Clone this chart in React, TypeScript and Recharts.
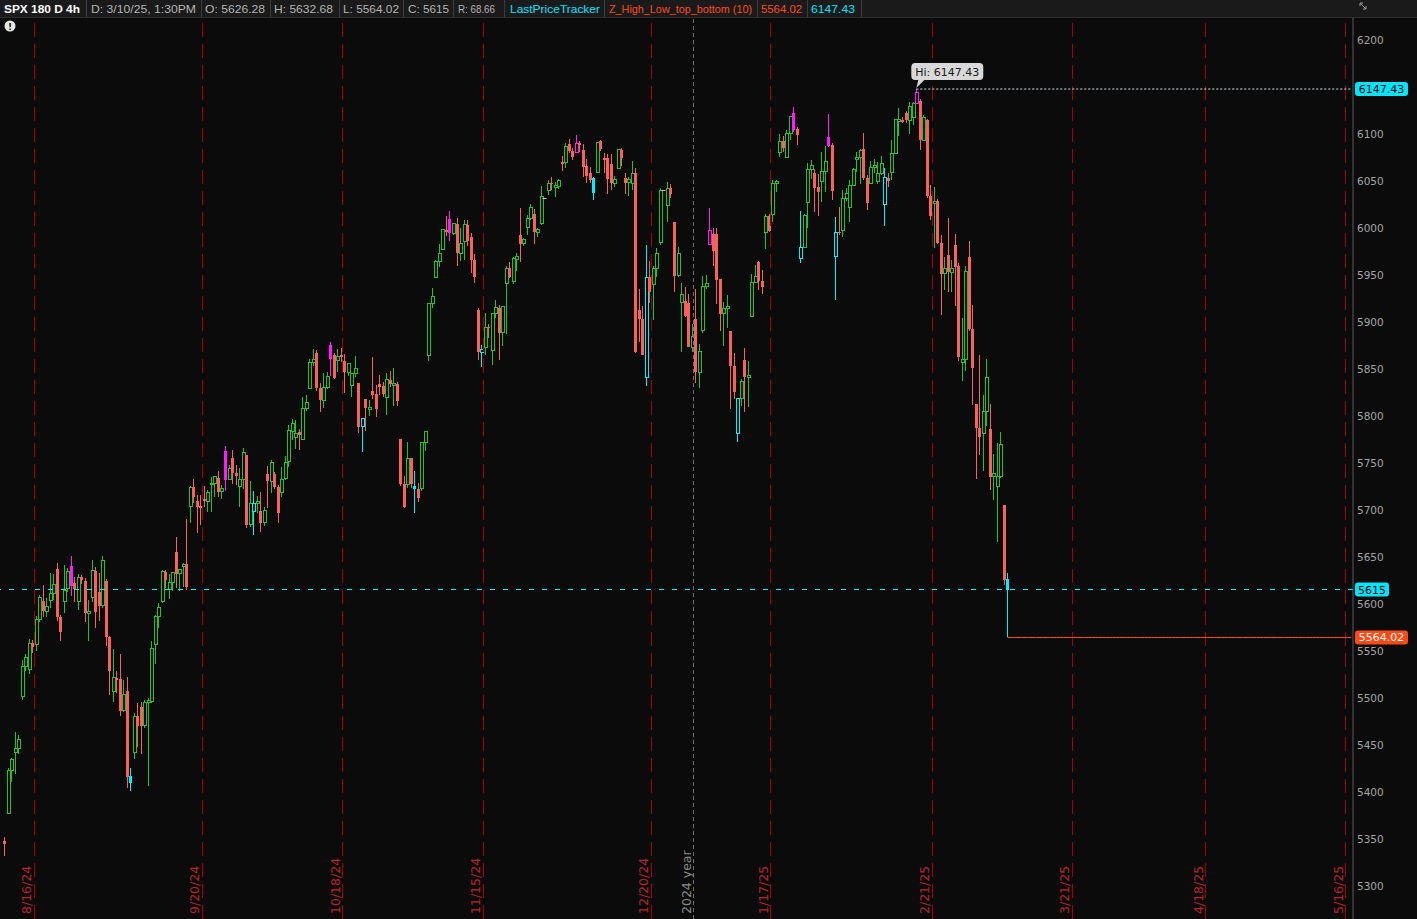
import React from "react";
import { Bar, ComposedChart, Line, ReferenceDot, ReferenceLine, XAxis, YAxis } from "recharts";

// SPX 4h candles, [open, high, low, close], one row per 4h bar.
// Slot 0 is the (cut off) first bar of 8/12/24, so the list starts at slot 1.
type Ohlc = [number, number, number, number];

const aug24: Ohlc[] = [
  [5348, 5352, 5331, 5344], [5377, 5425, 5376, 5422], [5422, 5436, 5410, 5434],
  [5442, 5463, 5419, 5446], [5446, 5460, 5440, 5455], [5501, 5540, 5497, 5533],
  [5533, 5546, 5528, 5543], [5530, 5562, 5525, 5558], [5558, 5561, 5548, 5554],
  [5557, 5587, 5550, 5583], [5583, 5609, 5580, 5607], [5603, 5620, 5586, 5592],
  [5592, 5606, 5586, 5597], [5603, 5633, 5595, 5611], [5611, 5632, 5604, 5620],
  [5637, 5643, 5582, 5586], [5586, 5588, 5560, 5570], [5602, 5641, 5590, 5614],
  [5616, 5638, 5612, 5634], [5640, 5651, 5608, 5619], [5622, 5628, 5602, 5616],
  [5602, 5631, 5593, 5628], [5628, 5630, 5621, 5625], [5624, 5627, 5580, 5590],
  [5590, 5604, 5560, 5592], [5607, 5646, 5602, 5635], [5635, 5639, 5574, 5591],
  [5612, 5633, 5581, 5598], [5598, 5651, 5595, 5646],
];

const sep24: Ohlc[] = [
  [5624, 5626, 5555, 5564], [5565, 5566, 5503, 5528], [5506, 5552, 5495, 5521],
  [5521, 5528, 5505, 5519], [5520, 5546, 5480, 5486], [5486, 5519, 5485, 5503],
  [5507, 5522, 5404, 5416], [5417, 5425, 5401, 5409], [5442, 5484, 5435, 5480],
  [5480, 5494, 5448, 5470], [5490, 5495, 5440, 5470], [5470, 5497, 5468, 5495],
  [5495, 5500, 5406, 5497], [5496, 5560, 5494, 5552], [5557, 5588, 5536, 5586],
  [5586, 5601, 5574, 5596], [5602, 5636, 5601, 5634], [5634, 5636, 5617, 5625],
  [5615, 5632, 5605, 5622], [5622, 5634, 5613, 5633], [5655, 5671, 5617, 5632],
  [5632, 5636, 5613, 5636], [5640, 5643, 5618, 5642], [5642, 5690, 5615, 5618],
  [5703, 5725, 5686, 5724], [5724, 5733, 5707, 5713], [5709, 5716, 5675, 5703],
  [5704, 5716, 5684, 5702], [5711, 5725, 5703, 5709], [5709, 5721, 5698, 5718],
  [5727, 5735, 5698, 5728], [5728, 5736, 5713, 5735], [5734, 5741, 5713, 5719],
  [5719, 5726, 5711, 5723], [5762, 5768, 5720, 5732], [5732, 5748, 5731, 5744],
  [5755, 5763, 5727, 5739], [5739, 5748, 5726, 5736], [5725, 5744, 5703, 5732],
  [5732, 5766, 5722, 5761],
];

const oct24: Ohlc[] = [
  [5758, 5758, 5680, 5684], [5684, 5730, 5682, 5707], [5698, 5720, 5673, 5706],
  [5706, 5715, 5696, 5709], [5699, 5719, 5676, 5686], [5686, 5703, 5683, 5699],
  [5738, 5746, 5702, 5730], [5730, 5753, 5718, 5750], [5738, 5740, 5722, 5724],
  [5724, 5726, 5686, 5696], [5718, 5745, 5713, 5732], [5733, 5757, 5731, 5750],
  [5751, 5790, 5745, 5784], [5783, 5796, 5774, 5792], [5777, 5795, 5765, 5781],
  [5783, 5786, 5763, 5779], [5775, 5820, 5775, 5808], [5808, 5822, 5805, 5814],
  [5829, 5860, 5828, 5857], [5857, 5871, 5853, 5860], [5867, 5870, 5826, 5829],
  [5829, 5835, 5804, 5817], [5816, 5845, 5808, 5830], [5830, 5846, 5828, 5842],
  [5875, 5878, 5842, 5860], [5864, 5867, 5839, 5840], [5859, 5871, 5846, 5863],
  [5865, 5872, 5857, 5862], [5858, 5866, 5824, 5846], [5846, 5856, 5842, 5855],
  [5832, 5845, 5820, 5845], [5845, 5863, 5841, 5850], [5835, 5835, 5781, 5788],
  [5788, 5798, 5761, 5797], [5818, 5818, 5784, 5808], [5807, 5817, 5800, 5809],
  [5826, 5862, 5818, 5822], [5823, 5833, 5799, 5807], [5834, 5843, 5822, 5830],
  [5832, 5836, 5820, 5823], [5819, 5845, 5801, 5838], [5838, 5847, 5830, 5834],
  [5832, 5851, 5810, 5834], [5834, 5836, 5810, 5816], [5775, 5775, 5725, 5727],
  [5727, 5736, 5702, 5703],
];

const nov24: Ohlc[] = [
  [5727, 5772, 5723, 5754], [5755, 5755, 5723, 5727], [5725, 5741, 5696, 5722],
  [5722, 5728, 5708, 5712], [5722, 5771, 5720, 5771], [5771, 5784, 5762, 5783],
  [5864, 5920, 5858, 5919], [5919, 5936, 5915, 5927], [5947, 5966, 5946, 5964],
  [5964, 5983, 5958, 5973], [5977, 5999, 5976, 5998], [5998, 6012, 5991, 5995],
  [6009, 6018, 5986, 5994], [5994, 6005, 5992, 6004], [6004, 6010, 5959, 5973],
  [5973, 6000, 5965, 5983], [5985, 6008, 5966, 6003], [6003, 6008, 5980, 5986],
  [5990, 5994, 5952, 5966], [5966, 5972, 5941, 5948], [5912, 5915, 5859, 5868],
  [5867, 5875, 5852, 5870], [5873, 5909, 5865, 5894], [5894, 5897, 5883, 5893],
  [5869, 5909, 5854, 5909], [5909, 5923, 5904, 5915], [5915, 5918, 5859, 5888],
  [5888, 5916, 5874, 5916], [5941, 5959, 5887, 5957], [5957, 5963, 5946, 5947],
  [5943, 5969, 5940, 5967], [5966, 5973, 5954, 5969], [5992, 6021, 5963, 5983],
  [5983, 5989, 5980, 5987], [6000, 6013, 5992, 6010], [6010, 6025, 6008, 6021],
  [6014, 6020, 5983, 5995], [5995, 6000, 5990, 5998], [6004, 6044, 6003, 6033],
  [6032, 6032, 6032, 6032],
];

const dec24: Ohlc[] = [
  [6039, 6051, 6035, 6047], [6048, 6054, 6040, 6047], [6043, 6049, 6033, 6045],
  [6044, 6052, 6041, 6050], [6070, 6076, 6060, 6068], [6069, 6090, 6063, 6086],
  [6089, 6094, 6079, 6082], [6082, 6085, 6072, 6075], [6080, 6099, 6079, 6090],
  [6090, 6092, 6080, 6088], [6083, 6089, 6054, 6065], [6066, 6073, 6047, 6055],
  [6058, 6065, 6047, 6051], [6053, 6054, 6029, 6037], [6059, 6091, 6058, 6091],
  [6092, 6093, 6082, 6084], [6074, 6079, 6058, 6072], [6074, 6078, 6036, 6052],
  [6068, 6078, 6040, 6047], [6047, 6055, 6043, 6051], [6063, 6084, 6062, 6083],
  [6083, 6085, 6066, 6074], [6053, 6058, 6036, 6047], [6048, 6054, 6034, 6051],
  [6047, 6071, 6040, 6058], [6058, 6063, 5867, 5868], [5912, 5935, 5878, 5903],
  [5903, 5917, 5865, 5865], [5841, 5982, 5831, 5947], [5947, 5964, 5920, 5931],
  [5939, 5959, 5902, 5957], [5957, 5978, 5947, 5972], [5984, 6042, 5982, 6040],
  [6040, 6040, 6040, 6040], [6024, 6049, 6006, 6042], [6042, 6046, 6031, 6036],
  [6006, 6006, 5931, 5949], [5949, 5979, 5947, 5972], [5920, 5941, 5868, 5929],
  [5922, 5937, 5905, 5906], [5920, 5929, 5873, 5873], [5873, 5897, 5868, 5884],
];

const jan25: Ohlc[] = [
  [5903, 5935, 5835, 5846], [5846, 5876, 5829, 5868], [5891, 5949, 5888, 5937],
  [5937, 5950, 5935, 5941], [5982, 6021, 5982, 5997], [5993, 6000, 5959, 5975],
  [5993, 6000, 5919, 5944], [5945, 5945, 5890, 5908], [5909, 5921, 5874, 5914],
  [5914, 5928, 5893, 5916], [5890, 5890, 5807, 5853], [5853, 5867, 5818, 5825],
  [5781, 5818, 5772, 5818], [5818, 5839, 5810, 5836], [5859, 5872, 5804, 5841],
  [5841, 5858, 5809, 5843], [5905, 5951, 5905, 5942], [5942, 5960, 5941, 5948],
  [5963, 5965, 5934, 5943], [5943, 5955, 5929, 5937], [5995, 6015, 5977, 6012],
  [6012, 6014, 5995, 5996], [6014, 6051, 6006, 6047], [6047, 6051, 6038, 6049],
  [6080, 6100, 6075, 6092], [6092, 6097, 6080, 6085], [6075, 6104, 6074, 6100],
  [6100, 6119, 6093, 6118], [6122, 6128, 6102, 6104], [6105, 6107, 6088, 6099],
  [5967, 6018, 5962, 5979], [5979, 6014, 5978, 6013], [6027, 6069, 6000, 6062],
  [6062, 6072, 6052, 6066], [6058, 6062, 6017, 6042], [6043, 6057, 6012, 6038],
  [6049, 6080, 6027, 6060], [6060, 6087, 6038, 6070], [6096, 6121, 6086, 6087],
  [6088, 6090, 6029, 6039],
];

const feb25: Ohlc[] = [
  [5969, 6011, 5923, 5995], [5995, 6022, 5992, 5994], [5997, 6040, 5990, 6031],
  [6031, 6042, 6028, 6036], [6021, 6051, 6006, 6045], [6045, 6063, 6044, 6062],
  [6072, 6080, 6059, 6075], [6075, 6084, 6046, 6082], [6084, 6101, 6051, 6053],
  [6053, 6056, 6019, 6026], [6047, 6071, 6046, 6064], [6064, 6073, 6058, 6066],
  [6049, 6070, 6046, 6058], [6058, 6076, 6056, 6068], [6025, 6063, 6002, 6053],
  [6053, 6058, 6043, 6050], [6059, 6093, 6051, 6079], [6079, 6116, 6078, 6115],
  [6113, 6127, 6098, 6115], [6115, 6118, 6111, 6112], [6122, 6124, 6111, 6114],
  [6114, 6134, 6100, 6129], [6117, 6134, 6109, 6132], [6132, 6147.43, 6131, 6144],
  [6135, 6137, 6083, 6093], [6093, 6120, 6092, 6117], [6114, 6116, 6032, 6034],
  [6034, 6045, 6008, 6012], [6026, 6043, 5978, 6028], [6028, 6030, 5983, 5984],
  [5984, 5992, 5907, 5951], [5951, 5969, 5934, 5956], [5971, 6010, 5931, 5953],
  [5952, 5966, 5931, 5957], [5981, 5993, 5917, 5958], [5959, 5962, 5858, 5862],
  [5856, 5904, 5837, 5860], [5860, 5959, 5848, 5953],
];

const mar25: Ohlc[] = [
  [5969, 5986, 5890, 5892], [5892, 5918, 5811, 5851], [5812, 5812, 5733, 5787],
  [5787, 5865, 5758, 5777], [5781, 5822, 5741, 5804], [5804, 5860, 5789, 5841],
  [5786, 5812, 5721, 5735], [5735, 5759, 5710, 5738], [5725, 5771, 5666, 5735],
  [5735, 5783, 5734, 5769], [5705, 5705, 5620, 5625], [5626.28, 5632.68, 5564.02, 5615],
];

// Z_High_Low_top_bottom (10) pivots, by slot
const pivotHighSlots = [20, 64, 94, 128, 164, 202, 226, 236, 261];
const pivotLowSlots = [37, 72, 103, 118, 137, 169, 184, 210, 228, 238, 252, 287];

// monthly expiration lines sit on the slot that follows the expiry day
const expiryLines = [
  { slot: 10, label: "8/16/24" },
  { slot: 58, label: "9/20/24" },
  { slot: 98, label: "10/18/24" },
  { slot: 138, label: "11/15/24" },
  { slot: 186, label: "12/20/24" },
  { slot: 220, label: "1/17/25" },
  { slot: 266, label: "2/21/25" },
  { slot: 306, label: "3/21/25" },
  { slot: 344, label: "4/18/25" },
  { slot: 384, label: "5/16/25" },
];
const yearLine = { slot: 198, label: "2024 year" };

// 6150 is hidden under the 6147.43 tag in the original
const priceTicks = [
  5300, 5350, 5400, 5450, 5500, 5550, 5600, 5650, 5700, 5750,
  5800, 5850, 5900, 5950, 6000, 6050, 6100, 6200,
];

const lastPrice = 5615;
const hiValue = 6147.43;
const hiSlot = 261;
const loValue = 5564.02;
const SLOTS = 386; // incl. the empty expansion area on the right

const GREEN = "#22c322";
const RED = "#f7625c";
const MAGENTA = "#ff1aff";
const CYAN = "#00f0ff";
const DOJI = "#c8c8c8";
const ORANGE = "#ff4a14";
const BG = "#0b0b0b";
const FONT = "'DejaVu Sans', 'Liberation Sans', sans-serif";
const HEAD_FONT = "'Liberation Sans', Arial, sans-serif";

const candles: Ohlc[] = [...aug24, ...sep24, ...oct24, ...nov24, ...dec24, ...jan25, ...feb25, ...mar25];
const lastSlot = candles.length; // slot index of the 3/10 1:30PM bar

const rows = Array.from({ length: SLOTS }, (_, i) => {
  const b = i >= 1 ? candles[i - 1] : undefined;
  return {
    i,
    o: b ? b[0] : null,
    h: b ? b[1] : null,
    l: b ? b[2] : null,
    c: b ? b[3] : null,
    kind: pivotHighSlots.includes(i) ? "hi" : pivotLowSlots.includes(i) ? "lo" : "",
    hiLine: i >= hiSlot ? hiValue : null,
    loLine: i >= lastSlot ? loValue : null,
  };
});

function Candle(props: any) {
  const { x, y, width, height, payload } = props;
  if (!payload || payload.o == null) return null;
  const { o, h, l, c, kind } = payload;
  const top = Math.min(y, y + height);
  const bot = Math.max(y, y + height);
  const span = h - l;
  const cx = Math.round(x + width / 2 - 0.5) + 0.5;
  if (span <= 0) {
    const yy = Math.round(top) + 0.5;
    return <line x1={cx - 2} x2={cx + 2} y1={yy} y2={yy} stroke={DOJI} />;
  }
  const py = (v: number) => top + ((h - v) / span) * (bot - top);
  const up = c > o;
  const color = kind === "hi" ? MAGENTA : kind === "lo" ? CYAN : up ? GREEN : RED;
  const bTop = py(Math.max(o, c));
  const bH = Math.max(py(Math.min(o, c)) - bTop, 1);
  return (
    <g shapeRendering="crispEdges">
      <line x1={cx} x2={cx} y1={py(h)} y2={bTop} stroke={color} />
      <line x1={cx} x2={cx} y1={bTop + bH} y2={py(l)} stroke={color} />
      {up ? (
        <rect x={cx - 1.5} y={bTop} width={3} height={bH} fill="none" stroke={color} />
      ) : (
        <rect x={cx - 1.5} y={bTop} width={3} height={bH} fill={color} />
      )}
    </g>
  );
}

function PriceTick(props: any) {
  const { y, payload } = props;
  return (
    <text x={1358} y={y + 4} fill="#a4a4a4" fontSize={10.5} fontFamily={FONT}>
      {payload.value}
    </text>
  );
}

function PriceTag(props: any) {
  const { viewBox, text, bg, fg, w } = props;
  if (!viewBox) return null;
  const x = viewBox.x + viewBox.width + 2;
  const y = viewBox.y;
  return (
    <g>
      <rect x={x} y={y - 7} width={w} height={14} rx={3} fill={bg} />
      <text x={x + w / 2} y={y + 4} textAnchor="middle" fill={fg} fontSize={11} fontFamily={FONT}>
        {text}
      </text>
    </g>
  );
}

function DateLabel(props: any) {
  const { viewBox, text, color } = props;
  if (!viewBox) return null;
  const tx = viewBox.x - 3;
  const ty = viewBox.y + viewBox.height - 5;
  return (
    <text
      x={tx}
      y={ty}
      transform={`rotate(-90 ${tx} ${ty})`}
      fill={color}
      fontSize={12.5}
      fontFamily={FONT}
    >
      {text}
    </text>
  );
}

function HiBubble(props: any) {
  const { cx, cy } = props;
  if (cx == null) return null;
  const bx = cx - 5;
  const by = cy - 26;
  return (
    <g>
      <path d={`M${cx} ${cy - 1} L${cx + 2} ${by + 17} L${cx + 8} ${by + 17} Z`} fill="#d9d9d9" />
      <rect x={bx} y={by} width={72} height={17} rx={4} fill="#d9d9d9" />
      <text x={bx + 36} y={by + 12.5} textAnchor="middle" fill="#1a1a1a" fontSize={11} fontFamily={FONT}>
        Hi: 6147.43
      </text>
    </g>
  );
}

const header = [
  { x: 4, w: 76, text: "SPX 180 D 4h", color: "#ffffff", bold: true, div: 86 },
  { x: 91, w: 105, text: "D: 3/10/25, 1:30PM", color: "#b4b4b4", div: 201 },
  { x: 205, w: 60, text: "O: 5626.28", color: "#b4b4b4", div: 270 },
  { x: 274, w: 59, text: "H: 5632.68", color: "#b4b4b4", div: 339 },
  { x: 343, w: 56, text: "L: 5564.02", color: "#b4b4b4", div: 403 },
  { x: 408, w: 41, text: "C: 5615", color: "#b4b4b4", div: 453 },
  { x: 458, w: 37, text: "R: 68.66", color: "#b4b4b4", div: 504 },
  { x: 510, w: 90, text: "LastPriceTracker", color: "#00e5ff", div: 604 },
  { x: 609, w: 143, text: "Z_High_Low_top_bottom (10)", color: ORANGE, div: 757 },
  { x: 761, w: 41, text: "5564.02", color: ORANGE, div: 807 },
  { x: 811, w: 44, text: "6147.43", color: "#00e5ff", div: 861 },
];

export default function App() {
  return (
    <div
      style={{
        position: "fixed",
        left: 0,
        top: 0,
        width: 1417,
        height: 919,
        overflow: "hidden",
        background: BG,
      }}
    >
      <div style={{ position: "absolute", left: -1, top: 0 }}>
        <ComposedChart
          width={1418}
          height={919}
          data={rows}
          margin={{ top: 18, right: 0, bottom: 0, left: 0 }}
          barCategoryGap={0}
        >
          <XAxis dataKey="i" type="category" hide />
          <YAxis
            orientation="right"
            width={64}
            domain={[5264.5, 6223]}
            allowDataOverflow
            ticks={priceTicks}
            interval={0}
            tickLine={false}
            axisLine={{ stroke: "#5a5a5a" }}
            tick={<PriceTick />}
          />
          {expiryLines.map((e) => (
            <ReferenceLine
              key={e.label}
              x={e.slot}
              position="start"
              stroke="#a80000"
              strokeDasharray="14 7"
              shapeRendering="crispEdges"
              label={<DateLabel text={e.label} color="#b3262a" />}
            />
          ))}
          <ReferenceLine
            x={yearLine.slot}
            position="start"
            stroke="#6e6e6e"
            strokeDasharray="4 3"
            shapeRendering="crispEdges"
            label={<DateLabel text={yearLine.label} color="#8a8a8a" />}
          />
          <ReferenceLine
            y={lastPrice}
            stroke="#00ffff"
            strokeDasharray="5 8"
            shapeRendering="crispEdges"
            label={<PriceTag text="5615" bg="#00e5ff" fg="#000" w={34} />}
          />
          <ReferenceLine
            y={hiValue}
            stroke="transparent"
            label={<PriceTag text="6147.43" bg="#00e5ff" fg="#000" w={53} />}
          />
          <ReferenceLine
            y={loValue}
            stroke="transparent"
            label={<PriceTag text="5564.02" bg={ORANGE} fg="#fff" w={53} />}
          />
          <Line
            dataKey="hiLine"
            stroke="#d6eef2"
            strokeWidth={1}
            strokeDasharray="2 2"
            dot={false}
            activeDot={false}
            isAnimationActive={false}
          />
          <Line
            dataKey="loLine"
            stroke="#ff5a1f"
            strokeWidth={1}
            dot={false}
            activeDot={false}
            isAnimationActive={false}
          />
          <Bar
            dataKey={(d: any) => (d.o == null ? null : [d.l, d.h === d.l ? d.h + 0.01 : d.h])}
            shape={<Candle />}
            isAnimationActive={false}
          />
          <ReferenceDot x={hiSlot} y={hiValue} r={0} shape={(p: any) => <HiBubble cx={p.cx} cy={p.cy} />} />
        </ComposedChart>
      </div>
      <svg width={1417} height={40} style={{ position: "absolute", left: 0, top: 0 }}>
        <rect x={0} y={0} width={1417} height={18} fill="#1a1a1a" />
        <line x1={0} x2={1417} y1={17.5} y2={17.5} stroke="#2c2c2c" />
        {header.map((hd) => (
          <g key={hd.text}>
            <text
              x={hd.x}
              y={13}
              fill={hd.color}
              fontSize={11}
              fontWeight={hd.bold ? "bold" : "normal"}
              fontFamily={HEAD_FONT}
              textLength={hd.w}
              lengthAdjust="spacingAndGlyphs"
            >
              {hd.text}
            </text>
            <line x1={hd.div + 0.5} x2={hd.div + 0.5} y1={0} y2={17} stroke="#3c3c3c" />
          </g>
        ))}
        <circle cx={10} cy={26} r={5.5} fill="#e8e8e8" />
        <text x={10} y={29.5} textAnchor="middle" fill="#111" fontSize={9} fontWeight="bold" fontFamily={FONT}>
          !
        </text>
        <path d="M1360 3 L1366 9 M1360 3 L1363 3 M1360 3 L1360 6 M1366 9 L1363 9 M1366 9 L1366 6" stroke="#9a9a9a" fill="none" />
      </svg>
    </div>
  );
}
